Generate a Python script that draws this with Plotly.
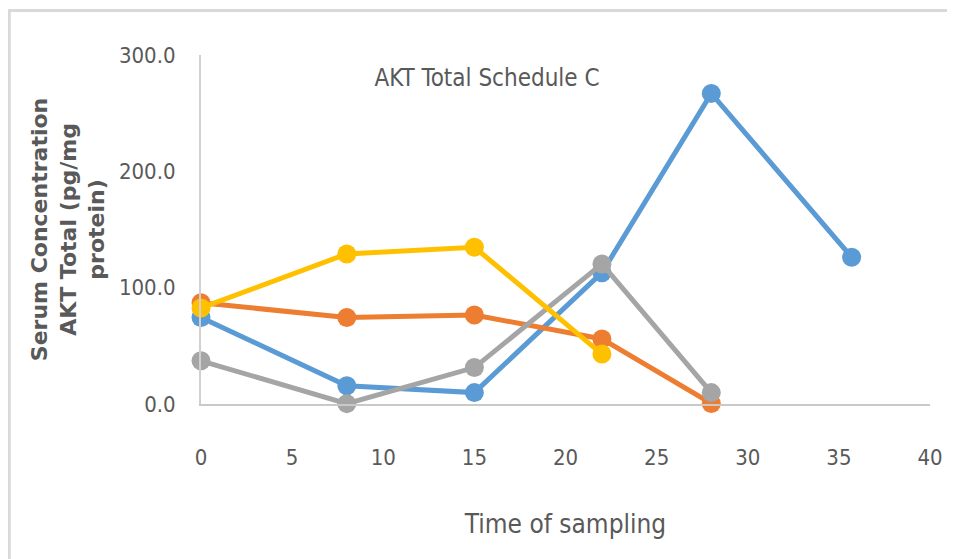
import plotly.graph_objects as go

# время отбора проб и значения серий
time_main = [0, 8, 15, 22, 28]
time_blue = [0, 8, 15, 22, 28, 35.7]
time_yellow = [0, 8, 15, 22]

blue_vals = [74.4, 15.7, 9.8, 112.9, 267.0, 126.2]
orange_vals = [87.0, 74.4, 76.5, 55.9, 0.5]
gray_vals = [37.1, 0.3, 31.3, 120.4, 9.8]
yellow_vals = [82.5, 129.0, 134.8, 42.9]

x_ticks = [0, 5, 10, 15, 20, 25, 30, 35, 40]
y_ticks = [0, 100, 200, 300]

narrow = "DejaVu Sans Condensed, Roboto, sans-serif"
txt_color = "#595959"
W, H = 947, 551  # страница сдвинута на 8px (отступ body)

fig = go.Figure()

series = [
    ("Series 1", time_blue, blue_vals, "#5B9BD5"),
    ("Series 2", time_main, orange_vals, "#ED7D31"),
    ("Series 3", time_main, gray_vals, "#A5A5A5"),
    ("Series 4", time_yellow, yellow_vals, "#FFC000"),
]
for name, xs, ys, col in series:
    fig.add_trace(go.Scatter(x=xs, y=ys, mode="lines+markers", name=name,
                             line=dict(color=col, width=5),
                             marker=dict(color=col, size=19),
                             cliponaxis=False))

fig.update_layout(
    width=W, height=H,
    margin=dict(l=193, r=22, t=47, b=155),
    paper_bgcolor="white", plot_bgcolor="white",
    showlegend=False,
    title=dict(text="AKT Total Schedule C", xref="container", x=479 / W,
               y=1 - 70 / H, xanchor="center", yanchor="middle",
               font=dict(family=narrow, size=24, color=txt_color)),
    xaxis=dict(range=[0, 40], tickvals=x_ticks, showgrid=False, zeroline=False,
               showline=True, linecolor="#c9c9c9", linewidth=2,
               ticks="", ticklabelstandoff=33,
               tickfont=dict(family=narrow, size=22, color=txt_color),
               title=dict(text="Time of sampling", standoff=45,
                          font=dict(family=narrow, size=26, color=txt_color))),
    yaxis=dict(range=[0, 300], tickvals=y_ticks, tickformat=".1f", showgrid=False,
               zeroline=False, showline=True, linecolor="#d0d0d0", linewidth=2,
               ticks="", ticklabelstandoff=19,
               tickfont=dict(family=narrow, size=22, color=txt_color),
               title=dict(text="Serum Concentration<br>AKT Total (pg/mg<br>protein)",
                          standoff=8,
                          font=dict(family="DejaVu Sans", size=22, color=txt_color,
                                    weight="bold"))),
)

# рамка вокруг графика
fig.add_shape(type="rect", xref="paper", yref="paper",
              x0=(8.5 - 201) / 732, y0=-0.5, x1=1.1, y1=(404 - 10.5) / 349,
              line=dict(color="#d9d9d9", width=3), fillcolor="rgba(0,0,0,0)",
              layer="below")

fig.write_html("out.html")
